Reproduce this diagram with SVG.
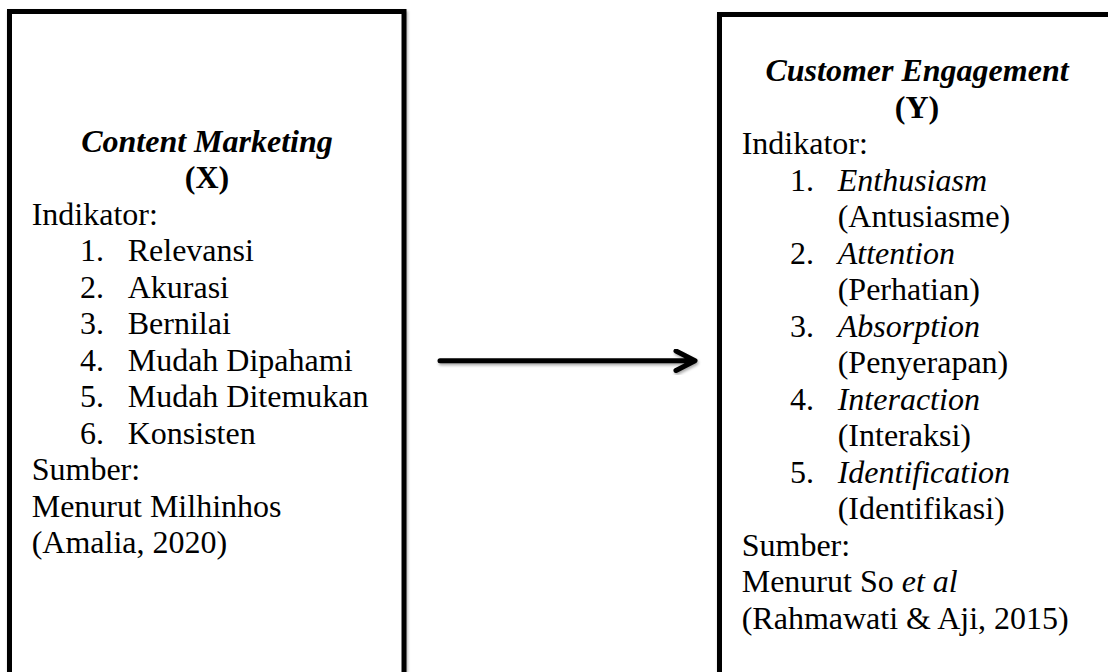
<svg xmlns="http://www.w3.org/2000/svg" width="1108" height="672" viewBox="0 0 1108 672">
<style>
.box{fill:#fff;stroke:#000;stroke-width:5;filter:url(#sh)}
.t{font-family:"Liberation Serif","Times New Roman",serif;font-size:32px;fill:#000}
.h{font-weight:bold;font-style:italic}
.b{font-weight:bold}
.i{font-style:italic}
.c{text-anchor:middle}
.conn{fill:none;stroke:#000;stroke-width:5;stroke-linecap:round;stroke-linejoin:round;filter:url(#sh)}
</style>
<defs>
<filter id="sh" x="-10%" y="-10%" width="120%" height="130%">
<feGaussianBlur in="SourceAlpha" stdDeviation="1.5"/>
<feOffset dx="1" dy="2" result="b"/>
<feComponentTransfer><feFuncA type="linear" slope="0.35"/></feComponentTransfer>
<feMerge><feMergeNode/><feMergeNode in="SourceGraphic"/></feMerge>
</filter>
</defs>
<rect width="1108" height="672" fill="#fff"/>
<g id="node-x">
<rect class="box" x="9.5" y="11.5" width="394.5" height="720"/>
<text class="t h c" x="207" y="151.5">Content Marketing</text>
<text class="t b c" x="207" y="188">(X)</text>
<text class="t" x="31.7" y="224.5">Indikator:</text>
<text class="t" x="80" y="261">1.</text><text class="t" x="127.7" y="261">Relevansi</text>
<text class="t" x="80" y="297.5">2.</text><text class="t" x="127.7" y="297.5">Akurasi</text>
<text class="t" x="80" y="334">3.</text><text class="t" x="127.7" y="334">Bernilai</text>
<text class="t" x="80" y="370.5">4.</text><text class="t" x="127.7" y="370.5">Mudah Dipahami</text>
<text class="t" x="80" y="407">5.</text><text class="t" x="127.7" y="407">Mudah Ditemukan</text>
<text class="t" x="80" y="443.5">6.</text><text class="t" x="127.7" y="443.5">Konsisten</text>
<text class="t" x="31.7" y="480">Sumber:</text>
<text class="t" x="31.7" y="516.5">Menurut Milhinhos</text>
<text class="t" x="31.7" y="553">(Amalia, 2020)</text>
</g>
<g id="node-y">
<rect class="box" x="719.5" y="14.5" width="500" height="720"/>
<text class="t h c" x="917" y="81">Customer Engagement</text>
<text class="t b c" x="917" y="117.5">(Y)</text>
<text class="t" x="741.7" y="154">Indikator:</text>
<text class="t" x="790" y="190.5">1.</text><text class="t i" x="837.7" y="190.5">Enthusiasm</text>
<text class="t" x="837.7" y="227">(Antusiasme)</text>
<text class="t" x="790" y="263.5">2.</text><text class="t i" x="837.7" y="263.5">Attention</text>
<text class="t" x="837.7" y="300">(Perhatian)</text>
<text class="t" x="790" y="336.5">3.</text><text class="t i" x="837.7" y="336.5">Absorption</text>
<text class="t" x="837.7" y="373">(Penyerapan)</text>
<text class="t" x="790" y="409.5">4.</text><text class="t i" x="837.7" y="409.5">Interaction</text>
<text class="t" x="837.7" y="446">(Interaksi)</text>
<text class="t" x="790" y="482.5">5.</text><text class="t i" x="837.7" y="482.5">Identification</text>
<text class="t" x="837.7" y="519">(Identifikasi)</text>
<text class="t" x="741.7" y="555.5">Sumber:</text>
<text class="t" x="741.7" y="592">Menurut So <tspan class="i">et al</tspan></text>
<text class="t" x="741.7" y="628.5">(Rahmawati &amp; Aji, 2015)</text>
</g>
<g id="connectors">
<path class="conn" d="M440 360.7 H694 M676 351 L695 360.7 L676 370.5"/>
</g>
</svg>
